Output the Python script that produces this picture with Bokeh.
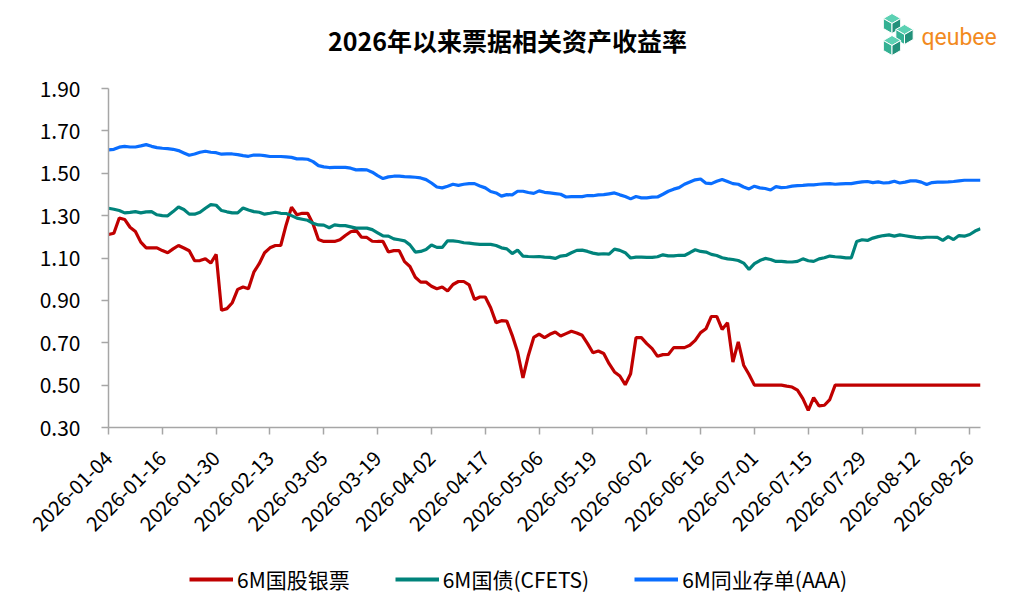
import math

from bokeh.plotting import figure
from bokeh.layouts import column
from bokeh.models import FixedTicker, Legend, LegendItem, PrintfTickFormatter, Range1d
from bokeh.core.properties import value
from bokeh.embed import file_html
from bokeh.resources import INLINE

# x 轴按交易日序号画, 每 10 个交易日一个刻度
tick_labels = ["2026-01-04", "2026-01-16", "2026-01-30", "2026-02-13", "2026-03-05",
               "2026-03-19", "2026-04-02", "2026-04-17", "2026-05-06", "2026-05-19",
               "2026-06-02", "2026-06-16", "2026-07-01", "2026-07-15", "2026-07-29",
               "2026-08-12", "2026-08-26"]

bill_6m = [1.211, 1.217, 1.289, 1.282, 1.245, 1.225, 1.175, 1.148, 1.148, 1.148,
           1.135, 1.125, 1.143, 1.159, 1.147, 1.134, 1.087, 1.088, 1.096, 1.076,
           1.117, 0.853, 0.861, 0.889, 0.952, 0.963, 0.955, 1.033, 1.073, 1.125,
           1.148, 1.159, 1.159, 1.256, 1.340, 1.304, 1.311, 1.311, 1.261, 1.187,
           1.178,
           1.178, 1.178, 1.186, 1.206, 1.224, 1.231, 1.198, 1.197, 1.179, 1.178,
           1.178, 1.128, 1.135, 1.135, 1.083, 1.060, 1.009, 0.986, 0.986, 0.967,
           0.955, 0.963, 0.944, 0.975, 0.989, 0.989, 0.973, 0.904, 0.916, 0.916,
           0.865, 0.795, 0.804, 0.802, 0.735, 0.656, 0.534, 0.640, 0.725, 0.741,
           0.724, 0.740, 0.751, 0.732, 0.743, 0.754, 0.746, 0.735, 0.696, 0.653,
           0.661, 0.649, 0.601, 0.562, 0.543, 0.502, 0.554, 0.724, 0.724, 0.696,
           0.672, 0.636, 0.644, 0.645, 0.677, 0.677, 0.677, 0.688, 0.711, 0.748,
           0.766, 0.824, 0.824, 0.763, 0.795, 0.609, 0.704, 0.594, 0.550, 0.500,
           0.500,
           0.500, 0.500, 0.500, 0.500, 0.495, 0.491, 0.476, 0.436, 0.381, 0.441,
           0.402, 0.405, 0.432, 0.500, 0.500, 0.500, 0.500, 0.500, 0.500, 0.500,
           0.500, 0.500, 0.500, 0.500, 0.500, 0.500, 0.500, 0.500, 0.500, 0.500,
           0.500, 0.500, 0.500, 0.500, 0.500, 0.500, 0.500, 0.500, 0.500, 0.500,
           0.500]

cgb_6m = [1.335, 1.330, 1.324, 1.313, 1.315, 1.319, 1.313, 1.318, 1.319, 1.304,
          1.300, 1.299, 1.319, 1.341, 1.329, 1.307, 1.307, 1.316, 1.335, 1.352,
          1.349, 1.324, 1.318, 1.313, 1.313, 1.336, 1.327, 1.319, 1.316, 1.307,
          1.311, 1.316, 1.311, 1.310, 1.300, 1.288, 1.283, 1.278, 1.264, 1.256,
          1.255,
          1.243, 1.256, 1.253, 1.253, 1.247, 1.241, 1.241, 1.241, 1.234, 1.219,
          1.204, 1.203, 1.190, 1.186, 1.181, 1.162, 1.128, 1.131, 1.140, 1.161,
          1.150, 1.150, 1.181, 1.181, 1.178, 1.172, 1.170, 1.167, 1.164, 1.164,
          1.164, 1.159, 1.148, 1.143, 1.121, 1.137, 1.109, 1.107, 1.106, 1.107,
          1.104, 1.103, 1.098, 1.109, 1.112, 1.125, 1.136, 1.137, 1.131, 1.123,
          1.118, 1.120, 1.118, 1.142, 1.136, 1.125, 1.100, 1.104, 1.104, 1.103,
          1.103, 1.106, 1.115, 1.110, 1.110, 1.113, 1.112, 1.125, 1.139, 1.131,
          1.128, 1.117, 1.112, 1.101, 1.096, 1.093, 1.088, 1.076, 1.046, 1.073,
          1.088,
          1.098, 1.093, 1.084, 1.084, 1.082, 1.081, 1.084, 1.096, 1.087, 1.084,
          1.096, 1.101, 1.109, 1.106, 1.104, 1.101, 1.101, 1.178, 1.186, 1.183,
          1.194, 1.201, 1.206, 1.209, 1.203, 1.209, 1.205, 1.201, 1.197, 1.195,
          1.198, 1.198, 1.197, 1.183, 1.201, 1.187, 1.206, 1.203, 1.211, 1.227,
          1.238]

ncd_6m = [1.610, 1.613, 1.623, 1.627, 1.624, 1.624, 1.629, 1.635, 1.627, 1.621,
          1.618, 1.616, 1.613, 1.607, 1.596, 1.585, 1.591, 1.599, 1.604, 1.599,
          1.597, 1.590, 1.591, 1.591, 1.588, 1.583, 1.580, 1.586, 1.586, 1.583,
          1.579, 1.579, 1.579, 1.577, 1.575, 1.568, 1.568, 1.566, 1.555, 1.536,
          1.530,
          1.527, 1.528, 1.528, 1.528, 1.524, 1.516, 1.517, 1.516, 1.505, 1.489,
          1.475, 1.483, 1.486, 1.486, 1.484, 1.483, 1.481, 1.478, 1.470, 1.454,
          1.435, 1.431, 1.439, 1.448, 1.443, 1.448, 1.451, 1.451, 1.440, 1.431,
          1.414, 1.407, 1.392, 1.399, 1.398, 1.415, 1.415, 1.409, 1.405, 1.417,
          1.410, 1.407, 1.404, 1.401, 1.388, 1.390, 1.390, 1.390, 1.395, 1.394,
          1.398, 1.399, 1.403, 1.407, 1.398, 1.390, 1.379, 1.390, 1.384, 1.384,
          1.387, 1.388, 1.401, 1.415, 1.425, 1.432, 1.448, 1.459, 1.469, 1.473,
          1.453, 1.451, 1.462, 1.471, 1.461, 1.451, 1.448, 1.435, 1.426, 1.439,
          1.431,
          1.428, 1.421, 1.437, 1.432, 1.434, 1.439, 1.442, 1.443, 1.445, 1.445,
          1.448, 1.450, 1.451, 1.448, 1.450, 1.451, 1.451, 1.456, 1.459, 1.461,
          1.456, 1.459, 1.454, 1.456, 1.462, 1.454, 1.458, 1.464, 1.464, 1.458,
          1.447, 1.456, 1.458, 1.458, 1.459, 1.461, 1.464, 1.467, 1.467, 1.467,
          1.467]

y_ticks = [0.30, 0.50, 0.70, 0.90, 1.10, 1.30, 1.50, 1.70, 1.90]

series = [("6M国股银票", bill_6m, "#C00000"),
          ("6M国债(CFETS)", cgb_6m, "#00837B"),
          ("6M同业存单(AAA)", ncd_6m, "#0A6EFF")]

days = list(range(len(bill_6m)))
FONT = "Noto Sans CJK SC"
AXIS_GREY = "#A6A6A6"
W = 1020

# ---- header: title and logo (canvas pixels, y downwards) ----
head = figure(width=W, height=60, x_range=Range1d(0, W), y_range=Range1d(60, 0),
              x_axis_type=None, y_axis_type=None, min_border=0, frame_align=False,
              output_backend="svg", toolbar_location=None)
head.outline_line_color = None
head.grid.visible = False
head.text(x=[507], y=[39], text=["2026年以来票据相关资产收益率"],
          text_font=value(FONT), text_font_size="25px", text_font_style="bold",
          text_align="center", text_baseline="middle", text_color="black")

cube_r = 10
hw = cube_r * math.cos(math.pi / 6)
face_xs, face_ys, face_cols = [], [], []
for cx, cy in [(891.5, 23), (904, 34), (891.5, 45)]:
    top, bot = (cx, cy - cube_r), (cx, cy + cube_r)
    ur, lr = (cx + hw, cy - cube_r / 2), (cx + hw, cy + cube_r / 2)
    ul, ll = (cx - hw, cy - cube_r / 2), (cx - hw, cy + cube_r / 2)
    c = (cx, cy)
    for face, colour in [((c, ul, top, ur), "#5CD1B3"),
                         ((c, ul, ll, bot), "#33B193"),
                         ((c, ur, lr, bot), "#22917A")]:
        face_xs.append([q[0] for q in face])
        face_ys.append([q[1] for q in face])
        face_cols.append(colour)
head.patches(face_xs, face_ys, fill_color=face_cols, line_color="white", line_width=1)
head.text(x=[921], y=[37], text=["qeubee"], text_font=value("Roboto"),
          text_font_size="23px", text_align="left", text_baseline="middle",
          text_color="#F28A1E")

# ---- main chart: frame at x 108..980, y 88..427 ----
p = figure(width=W, height=482, x_range=(0, len(days) - 1), y_range=(0.30, 1.90),
           output_backend="svg", toolbar_location=None, frame_align=False,
           min_border_left=108, min_border_right=W - 108 - 872,
           min_border_top=28, min_border_bottom=115)
p.outline_line_color = None
p.grid.visible = False

for name, vals, colour in series:
    p.line(days, vals, line_color=colour, line_width=3.2)

p.xaxis.ticker = FixedTicker(ticks=list(range(0, len(days), 10)))
p.xaxis.major_label_overrides = {i * 10: lab for i, lab in enumerate(tick_labels)}
p.xaxis.major_label_orientation = math.pi / 4
p.yaxis.ticker = FixedTicker(ticks=y_ticks)
p.yaxis.formatter = PrintfTickFormatter(format="%.2f")

for ax in (p.xaxis, p.yaxis):
    ax.axis_line_color = AXIS_GREY
    ax.axis_line_width = 1.5
    ax.major_tick_line_color = AXIS_GREY
    ax.major_tick_line_width = 1.5
    ax.major_tick_out = 7
    ax.major_tick_in = 0
    ax.minor_tick_line_color = None
    ax.major_label_text_font = FONT
    ax.major_label_text_color = "black"
p.xaxis.major_label_text_font_size = "20px"
p.xaxis.major_label_standoff = 20
p.yaxis.major_label_text_font_size = "21px"
p.yaxis.major_label_standoff = 21

# ---- footer: legend (its lines sit outside the footer's y range) ----
foot = figure(width=W, height=68, x_range=(0, len(days) - 1), y_range=(10, 11),
              x_axis_type=None, y_axis_type=None, min_border=0, frame_align=False,
              output_backend="svg", toolbar_location=None)
foot.outline_line_color = None
foot.grid.visible = False
items = []
for name, vals, colour in series:
    r = foot.line(days, vals, line_color=colour, line_width=4)
    items.append(LegendItem(label=name, renderers=[r]))
legend = Legend(items=items, orientation="horizontal", location=(189, 16),
                glyph_width=44, glyph_height=20, label_standoff=4, spacing=45,
                padding=5, margin=0, label_text_font=FONT, label_text_font_size="21px",
                label_text_color="black",
                border_line_color=None, background_fill_alpha=0)
foot.add_layout(legend)

page = column(head, p, foot, spacing=0)
open("out.html", "w").write(file_html(page, INLINE))
